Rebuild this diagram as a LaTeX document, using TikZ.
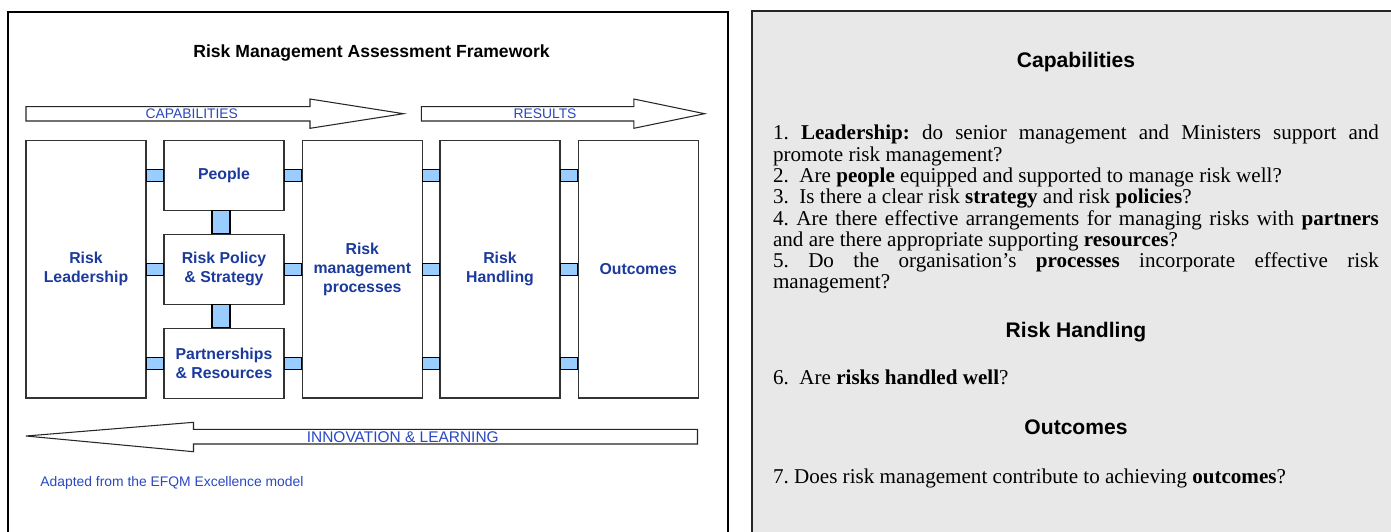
\documentclass[tikz,border=0pt]{standalone}
\usepackage{fontspec}
\setmainfont{Liberation Serif}
\setsansfont{Liberation Sans}
\usetikzlibrary{calc}
\definecolor{RBlue}{HTML}{1B3A9C}
\definecolor{LBlue}{HTML}{2A48C0}
\definecolor{LinkFill}{HTML}{99CCFF}
\definecolor{PanelGray}{HTML}{E8E8E8}
\setlength{\parindent}{0pt}

% small blue links between the boxes
\newcommand{\hlink}[3]{\draw[link] ($(#1.east|-#3)+(0,-6)$) rectangle ($(#2.west|-#3)+(0,6)$);}
\newcommand{\vlink}[2]{\draw[link] ($(#1.south)+(-12,0)$) rectangle ($(#2.north)+(6,0)$);}

\begin{document}
\frenchspacing
\begin{tikzpicture}[x=0.02cm, y=-0.02cm,
    box/.style={draw=black!80, fill=white, line width=0.6pt, align=center,
        font=\sffamily\bfseries\fontsize{9}{10.8}\selectfont, text=RBlue,
        minimum width=2.4cm, inner sep=2pt},
    tall/.style={box, minimum height=5.16cm},
    small/.style={box, minimum height=1.4cm},
    link/.style={draw=black, fill=LinkFill, line width=0.6pt},
    band/.style={draw=black!85, fill=white, line width=0.6pt},
    bandlabel/.style={font=\sffamily\fontsize{7.9}{9}\selectfont, text=LBlue, anchor=base, inner sep=0},
    head/.style={font=\sffamily\bfseries\fontsize{12}{14}\selectfont, anchor=base, inner sep=0},
    qtext/.style={font=\fontsize{12}{12.1}\selectfont, anchor=base west, inner sep=0}]
    \useasboundingbox (0,0) rectangle (1391,531);
    \clip (0,0) rectangle (1391,531);

    % Panels
    \draw[line width=0.6pt] (8,12) rectangle (728,560);
    \draw[draw=black!85, fill=PanelGray, line width=1.3pt] (752,11) rectangle (1420,560);

    % Title
    \node[font=\sffamily\bfseries\fontsize{10}{12}\selectfont, anchor=base, inner sep=0] (title) at (371.6,57) {Risk Management Assessment Framework};

    % Band arrows
    \draw[band] (26,106.7) -- (310,106.7) -- (310,99) -- (403.5,113.7) -- (310,128.3) -- (310,121) -- (26,121) -- cycle;
    \node[bandlabel] (capsband) at (191.8,118.3) {CAPABILITIES};
    \draw[band] (421.4,106.7) -- (633.8,106.7) -- (633.8,99) -- (704.6,113.7) -- (633.8,128.3) -- (633.8,121) -- (421.4,121) -- cycle;
    \node[bandlabel] (resband) at (545,118.3) {RESULTS};
    \draw[band] (697.5,429.3) -- (193.5,429.3) -- (193.5,422.3) -- (26,436) -- (193.5,451.7) -- (193.5,444) -- (697.5,444) -- cycle;
    \node[bandlabel, font=\sffamily\fontsize{8.8}{10}\selectfont] (innoband) at (402.8,442.7) {INNOVATION \& LEARNING};

    % Boxes
    \node[tall] (lead) at (86,269) {Risk\\Leadership};
    \node[small] (people) at (224,175.35) {People};
    \node[small] (policy) at (224,269.3) {Risk Policy\\\& Strategy};
    \node[small] (partner) at (224,363.2) {Partnerships\\\& Resources};
    \node[tall] (procs) at (362.3,269) {Risk\\management\\processes};
    \node[tall] (handling) at (500,269) {Risk\\Handling};
    \node[tall] (outcomes) at (638.2,269) {Outcomes};

    % Links
    \foreach \r in {people,policy,partner} {
        \hlink{lead}{\r}{\r}
        \hlink{\r}{procs}{\r}
        \hlink{procs}{handling}{\r}
        \hlink{handling}{outcomes}{\r}
    }
    \vlink{people}{policy}
    \vlink{policy}{partner}

    \node[font=\sffamily\fontsize{7.9}{9}\selectfont, text=LBlue, anchor=base west, inner sep=0] (source) at (40,486.5) {Adapted from the EFQM Excellence model};

    % Questions
    \node[head] (caphead) at (1076,67.5) {Capabilities};
    \node[font=\fontsize{12}{12.1}\selectfont, text width=12.12cm, align=justify, anchor=north west, inner sep=0] (capq) at (772.7,125) {%
        1. \textbf{Leadership:} do senior management and Ministers support and\linebreak promote risk management?\par
        2.~ Are \textbf{people} equipped and supported to manage risk well?\par
        3.~ Is there a clear risk \textbf{strategy} and risk \textbf{policies}?\par
        4. Are there effective arrangements for managing risks with \textbf{partners}\linebreak and are there appropriate supporting \textbf{resources}?\par
        5. Do the organisation's \textbf{processes} incorporate effective risk\linebreak management?};
    \node[head] (hdlhead) at (1076,337) {Risk Handling};
    \node[qtext] (q6) at (772.7,384) {6.~ Are \textbf{risks handled well}?};
    \node[head] (outhead) at (1076,434) {Outcomes};
    \node[qtext] (q7) at (772.7,483) {7. Does risk management contribute to achieving \textbf{outcomes}?};
\end{tikzpicture}
\end{document}
